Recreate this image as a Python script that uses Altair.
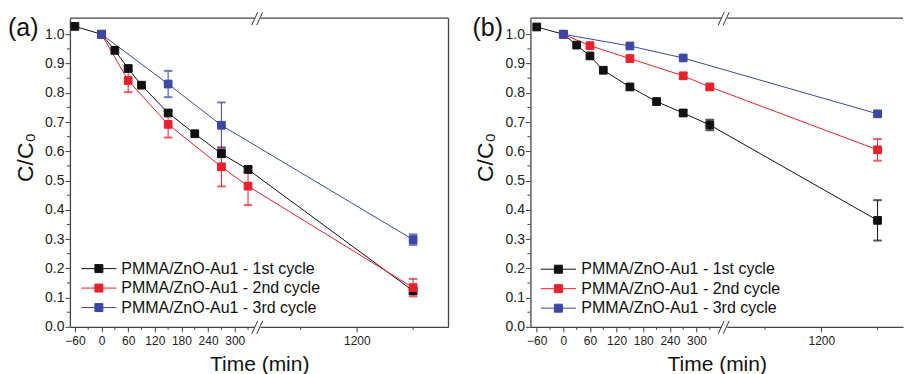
import altair as alt
import pandas as pd

FONT = "Liberation Sans"
SERIES = ["PMMA/ZnO-Au1 - 1st cycle", "PMMA/ZnO-Au1 - 2nd cycle", "PMMA/ZnO-Au1 - 3rd cycle"]
COLORS = ["#111111", "#e8212b", "#3a47a5"]

# ---- panel (a) ----
a1_t = [-60, 0, 30, 60, 90, 150, 210, 270, 330, 1440]
a1_v = [1.027, 1.0, 0.945, 0.883, 0.826, 0.731, 0.660, 0.592, 0.538, 0.123]
a1_e = [0, 0, 0, 0.008, 0, 0.008, 0, 0.012, 0.01, 0.01]
a2_t = [0, 60, 150, 270, 330, 1440]
a2_v = [1.0, 0.842, 0.692, 0.547, 0.481, 0.134]
a2_e = [0, 0.04, 0.045, 0.067, 0.065, 0.03]
a3_t = [0, 150, 270, 1440]
a3_v = [1.0, 0.830, 0.689, 0.298]
a3_e = [0, 0.045, 0.078, 0.018]

# ---- panel (b) ----
b1_t = [-60, 0, 30, 60, 90, 150, 210, 270, 330, 1440]
b1_v = [1.025, 1.0, 0.963, 0.926, 0.877, 0.820, 0.770, 0.731, 0.690, 0.364]
b1_e = [0, 0, 0, 0, 0, 0, 0, 0.01, 0.018, 0.069]
b2_t = [0, 60, 150, 270, 330, 1440]
b2_v = [1.0, 0.961, 0.917, 0.858, 0.820, 0.605]
b2_e = [0, 0, 0, 0.01, 0.01, 0.037]
b3_t = [0, 150, 270, 1440]
b3_v = [1.0, 0.960, 0.919, 0.728]
b3_e = [0, 0, 0, 0]

X_MAJOR = [-60, 0, 60, 120, 180, 240, 300, 1200]
X_MINOR = [-30, 30, 90, 150, 210, 270, 330, 960, 1440]
Y_MAJOR = [0.0, 0.1, 0.2, 0.3, 0.4, 0.5, 0.6, 0.7, 0.8, 0.9, 1.0]
Y_MINOR = [0.05, 0.15, 0.25, 0.35, 0.45, 0.55, 0.65, 0.75, 0.85, 0.95]

H = 309
AXC = "#444444"
PATH = "M-4.4,0H4.4M-1,-1H1V1H-1Z"


def make_df(groups):
    rows = []
    for name, ts, vs, es in groups:
        for t, v, e in zip(ts, vs, es):
            rows.append({"s": name, "t": t, "v": v, "e": e, "lo": v - e, "hi": v + e})
    return pd.DataFrame(rows)


def panel(label, df, xdomain, brk, W, legx, legy, laboff, right_frame, labx):
    xs = alt.Scale(domain=xdomain, range=[0, brk, brk, W], nice=False, zero=False)
    ys = alt.Scale(domain=[0, 1.055], nice=False, zero=False)
    xaxis = alt.Axis(values=X_MAJOR, format="d", title="Time (min)", titleFontSize=21,
                     titlePadding=7, titleFontWeight="normal", titleColor="#111",
                     labelFontSize=12, labelColor="#222", labelPadding=4, tickSize=5,
                     labelFlush=False, labelOverlap=False, grid=False, domainColor=AXC,
                     tickColor=AXC, domainWidth=1.3, tickWidth=1)
    yaxis = alt.Axis(values=Y_MAJOR, format=".1f", title="C/C₀", titleFontSize=23,
                     titlePadding=7, titleFontWeight="normal", titleColor="#111", titleY=139,
                     labelFontSize=14, labelColor="#222", labelPadding=1, tickSize=5,
                     grid=False, domainColor=AXC, tickColor=AXC, domainWidth=1.3, tickWidth=1)
    X = alt.X("t:Q", scale=xs, axis=xaxis)
    Y = alt.Y("v:Q", scale=ys, axis=yaxis)
    cs = alt.Scale(domain=SERIES, range=COLORS)
    leg = alt.Legend(title=None, orient="none", legendX=legx, legendY=legy, symbolType=PATH,
                     symbolSize=64, symbolStrokeWidth=1, labelFontSize=16, labelFont=FONT,
                     labelColor="#111", labelOffset=laboff, labelLimit=0, rowPadding=3.5,
                     padding=0, symbolOpacity=1)
    stroke = alt.Stroke("s:N", scale=cs, legend=leg, sort=SERIES)
    fill = alt.Fill("s:N", scale=cs, legend=leg, sort=SERIES)

    base = alt.Chart(df)
    lines = base.mark_line(strokeWidth=1).encode(x=X, y=Y, stroke=stroke, order="t:Q")
    err = base.transform_filter("datum.e > 0")
    bars = err.mark_rule(strokeWidth=1).encode(x=X, y=alt.Y("lo:Q", scale=ys, axis=yaxis),
                                               y2="hi:Q", stroke=stroke)
    caps = err.transform_fold(["lo", "hi"], as_=["k", "cv"]).transform_calculate(
        v="datum.cv").mark_tick(orient="horizontal", size=8, thickness=1).encode(
        x=X, y=Y, stroke=stroke, fill=fill)
    pts = base.mark_point(shape="square", filled=True, size=60, opacity=1, strokeWidth=1).encode(
        x=X, y=Y, fill=fill, stroke=stroke)

    xminor = alt.Chart(pd.DataFrame({"t": X_MINOR})).mark_rule(color=AXC, strokeWidth=1).encode(
        x=X, y=alt.value(H), y2=alt.value(H + 3))
    yminor = alt.Chart(pd.DataFrame({"v": Y_MINOR})).mark_rule(color=AXC, strokeWidth=1).encode(
        y=Y, x=alt.value(0), x2=alt.value(-3))

    one = alt.Chart(pd.DataFrame({"k": [0]}))
    top = one.mark_rule(color=AXC, strokeWidth=1.3).encode(
        x=alt.value(0), x2=alt.value(W), y=alt.value(0))
    layers = [lines, bars, caps, pts, xminor, yminor, top]
    if right_frame:
        layers.append(one.mark_rule(color=AXC, strokeWidth=1.3).encode(
            x=alt.value(W), y=alt.value(0), y2=alt.value(H)))
    # axis break marks
    for yy in (0, H):
        layers.append(one.mark_rule(color="white", strokeWidth=3).encode(
            x=alt.value(brk - 3), x2=alt.value(brk + 3), y=alt.value(yy)))
        for dx in (-3, 2):
            layers.append(one.mark_rule(color="#333", strokeWidth=1).encode(
                x=alt.value(brk + dx - 3), x2=alt.value(brk + dx + 3),
                y=alt.value(yy + 7), y2=alt.value(yy - 6)))
    layers.append(one.mark_text(text=label, fontSize=25, align="left", baseline="top",
                                color="#111").encode(x=alt.value(labx), y=alt.value(-2)))
    return alt.layer(*layers).properties(width=W, height=H)


dfa = make_df([(SERIES[0], a1_t, a1_v, a1_e), (SERIES[1], a2_t, a2_v, a2_e),
               (SERIES[2], a3_t, a3_v, a3_e)])
dfb = make_df([(SERIES[0], b1_t, b1_v, b1_e), (SERIES[1], b2_t, b2_v, b2_e),
               (SERIES[2], b3_t, b3_v, b3_e)])

pa = panel("(a)", dfa, [-71.25, 351.8, 777, 1591], 188, 379, 21, 242.7, 14.4, True, -62)
pb = panel("(b)", dfb, [-74.2, 362.4, 785.5, 1548.5], 194, 373, 20, 243.3, 15, False, -58)

chart = alt.hconcat(pa, pb, spacing=82, bounds="flush").resolve_scale(
    fill="independent", stroke="independent").properties(
    padding={"left": 8, "top": 11, "right": 0, "bottom": 0}, background="white"
).configure(font=FONT).configure_view(stroke=None)

chart.save("out.html", embed_options={"renderer": "svg", "actions": False})
